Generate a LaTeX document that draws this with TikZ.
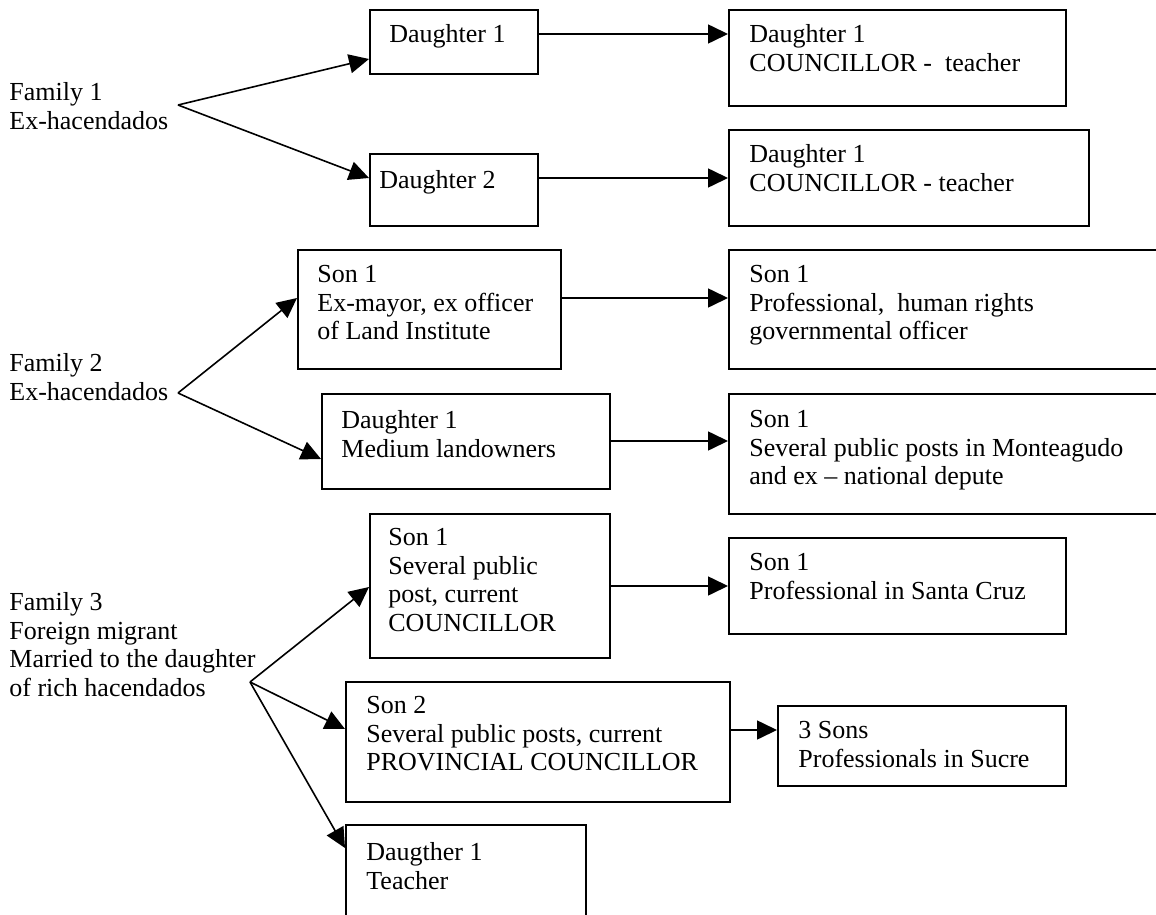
\documentclass[tikz,border=0pt]{standalone}
\usepackage{fontspec}
\setmainfont{Liberation Serif}
\usetikzlibrary{arrows.meta}
\begin{document}
\begin{tikzpicture}[x=0.5pt,y=-0.5pt,
  box/.style={draw, line width=1pt, rectangle, inner sep=0pt, anchor=north west},
  txt/.style={anchor=north west, inner sep=0pt, align=left, font=\fontsize{13}{14.3}\selectfont},
  arr/.style={-{Triangle[length=10pt,width=9.5pt]}, line width=0.8pt},
]
\useasboundingbox (0,0) rectangle (1156,915);
\clip (0,0) rectangle (1156,915);

% family labels and fork points
\node[txt] (f1) at (9,82) {Family 1\\Ex-hacendados};
\node[txt] (f2) at (9,353) {Family 2\\Ex-hacendados};
\node[txt] (f3) at (9,592) {Family 3\\Foreign migrant\\Married to the daughter\\of rich hacendados};
\coordinate (f1p) at (178,105);
\coordinate (f2p) at (178,393);
\coordinate (f3p) at (250,682);

% boxes
\node[box, minimum width=84pt,    minimum height=32pt]   (d1a) at (369,9) {};
\node[box, minimum width=84pt,    minimum height=36pt]   (d1b) at (369,153) {};
\node[box, minimum width=168.5pt, minimum height=48pt]   (r1a) at (728,9) {};
\node[box, minimum width=180pt,   minimum height=48pt]   (r1b) at (728,129) {};
\node[box, minimum width=131.5pt, minimum height=59.5pt] (s2a) at (297,249) {};
\node[box, minimum width=144pt,   minimum height=47.5pt] (s2b) at (321,393) {};
\node[box, minimum width=221pt,   minimum height=59.5pt] (r2a) at (728,249) {};
\node[box, minimum width=221pt,   minimum height=60pt]   (r2b) at (728,393) {};
\node[box, minimum width=120pt,   minimum height=72pt]   (s3a) at (369,513) {};
\node[box, minimum width=192pt,   minimum height=60pt]   (s3b) at (345,681) {};
\node[box, minimum width=120pt,   minimum height=60pt]   (s3c) at (345,824) {};
\node[box, minimum width=168.5pt, minimum height=48pt]   (r3a) at (728,537) {};
\node[box, minimum width=144pt,   minimum height=40pt]   (r3b) at (777,705) {};

% box texts
\node[txt] at ([shift={(20,15)}]d1a.north west) {Daughter 1};
\node[txt] at ([shift={(10,17)}]d1b.north west) {Daughter 2};
\node[txt] at ([shift={(21,15)}]r1a.north west) {Daughter 1\\COUNCILLOR -\ \ teacher};
\node[txt] at ([shift={(21,15)}]r1b.north west) {Daughter 1\\COUNCILLOR - teacher};
\node[txt] at ([shift={(20,16)}]s2a.north west) {Son 1\\Ex-mayor, ex officer\\of Land Institute};
\node[txt] at ([shift={(20,17)}]s2b.north west) {Daughter 1\\Medium landowners};
\node[txt] at ([shift={(21,16)}]r2a.north west) {Son 1\\Professional,\ \ human rights\\governmental officer};
\node[txt] at ([shift={(21,17)}]r2b.north west) {Son 1\\Several public posts in Monteagudo\\and ex -- national depute};
\node[txt] at ([shift={(19,15)}]s3a.north west) {Son 1\\Several public\\post, current\\COUNCILLOR};
\node[txt] at ([shift={(21,15)}]s3b.north west) {Son 2\\Several public posts, current\\PROVINCIAL COUNCILLOR};
\node[txt] at ([shift={(21,18)}]s3c.north west) {Daugther 1\\Teacher};
\node[txt] at ([shift={(21,16)}]r3a.north west) {Son 1\\Professional in Santa Cruz};
\node[txt] at ([shift={(21,16)}]r3b.north west) {3 Sons\\Professionals in Sucre};

% connectors
\draw[arr] (f1p) -- ([yshift=-8.5pt]d1a.west);
\draw[arr] (f1p) -- ([yshift=6pt]d1b.west);
\draw[arr] ([yshift=4pt]d1a.east) -- ([yshift=12pt]r1a.west);
\draw[arr] ([yshift=6pt]d1b.east) -- (r1b.west);

\draw[arr] (f2p) -- ([yshift=5.75pt]s2a.west);
\draw[arr] (f2p) -- ([yshift=-8.75pt]s2b.west);
\draw[arr] ([yshift=5.75pt]s2a.east) -- ([yshift=5.75pt]r2a.west);
\draw[arr] ([yshift=0.25pt]s2b.east) -- ([yshift=6.5pt]r2b.west);

\draw[arr] (f3p) -- ([yshift=-0.5pt]s3a.west);
\draw[arr] (f3p) -- ([yshift=6.5pt]s3b.west);
\draw[arr] (f3p) -- ([yshift=18.5pt]s3c.west);
\draw[arr] (s3a.east) -- (r3a.west);
\draw[arr] ([yshift=6pt]s3b.east) -- ([yshift=8pt]r3b.west);
\end{tikzpicture}
\end{document}
